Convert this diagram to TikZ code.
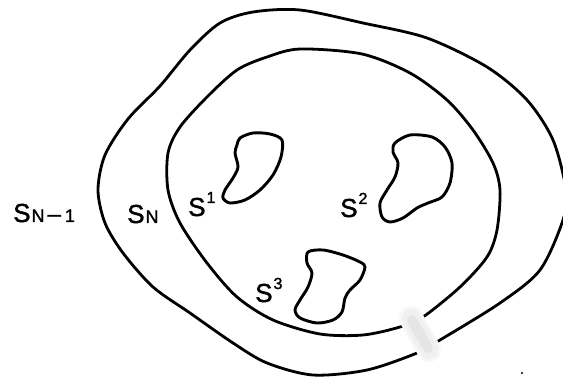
\documentclass[tikz,border=0pt]{standalone}
\usepackage{fontspec}
\setmainfont{Liberation Sans}
\newfontfamily\lblfont[FakeBold=1.6]{Liberation Sans}
\newcommand\lblsup[1]{\kern1pt\raisebox{13pt}{\fontsize{16}{16}\selectfont #1}}
\newcommand\lblsub[1]{\kern1pt{\fontsize{18}{18}\selectfont #1}}
\begin{document}
\begin{tikzpicture}[x=1pt,y=-1pt,
  curve/.style={line width=2.8pt, line join=round},
  blob/.style={line width=2.9pt, line join=round},
  lbl/.style={inner sep=0pt, anchor=base west, font=\lblfont\fontsize{26}{26}\selectfont}]
\useasboundingbox (0,0) rectangle (563,379);
\clip (0,0) rectangle (563,379);
% outer boundary
\draw[curve] plot[smooth cycle] coordinates {
  (98,190) (105,155) (128,119) (160,86) (190,50) (220,23) (253,12) (300,10)
  (363,23) (427,38) (487,67) (527,100) (553,140) (566,190) (563,220)
  (540,270) (500,303) (440,340) (417,353) (367,370) (313,375) (267,363)
  (233,343) (190,313) (153,287) (123,253) (105,223)};
% inner boundary
\draw[curve] plot[smooth cycle] coordinates {
  (168,190) (168,153) (180,127) (207,97) (237,70) (267,57) (300,49)
  (362,54) (410,73) (447,100) (473,130) (493,163) (500,190) (497,230)
  (487,257) (460,287) (423,317) (400,327) (363,335) (320,334) (273,320)
  (237,297) (207,263) (180,223)};
% holes
\draw[blob] plot[smooth cycle] coordinates {
  (240,138) (253,133) (270,134) (282,140) (281,157) (273,175) (260,190)
  (245,200) (230,203) (223,198) (225,190) (233,178) (238,167) (235,153) (237,145)};
\draw[blob] plot[smooth cycle] coordinates {
  (395,143) (410,135) (432,137) (445,147) (452,163) (450,183) (442,197)
  (428,203) (417,208) (403,218) (390,222) (382,217) (380,203) (387,190)
  (395,177) (398,163) (393,152)};
\draw[blob] plot[smooth cycle] coordinates {
  (308,252) (323,250) (343,255) (360,262) (365,267) (360,280) (350,290)
  (345,298) (342,312) (333,320) (317,323) (300,318) (295,310) (300,300)
  (308,287) (312,273) (307,263)};
% smudge over the curves
\draw[line width=24pt, line cap=round, color=black!3] (411,318) -- (429,350);
\draw[line width=18pt, line cap=round, color=black!6] (411,318) -- (429,350);
\draw[line width=10pt, line cap=round, color=black!10] (412,320) -- (428,348);
% speck
\fill (522,373) circle (1.2);
% labels
\node[lbl] (snm1) at (13,222) {S\lblsub{N\kern3pt{\fontsize{24}{24}\selectfont –}\kern4pt1}};
\node[lbl] (sn) at (127,223) {S\lblsub{N}};
\node[lbl] (s1) at (188,216) {S\lblsup{1}};
\node[lbl] (s2) at (340,217) {S\lblsup{2}};
\node[lbl] (s3) at (255,302) {S\lblsup{3}};
\end{tikzpicture}
\end{document}
